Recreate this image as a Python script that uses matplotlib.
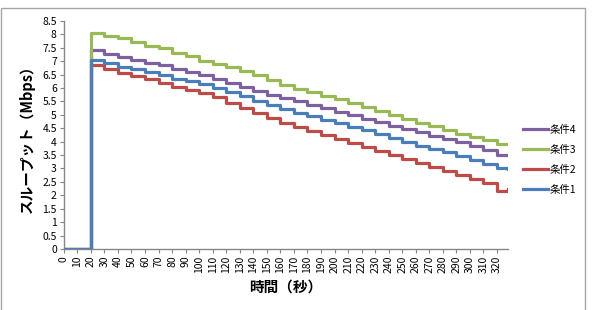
import matplotlib
matplotlib.use("Agg")
import matplotlib.pyplot as plt
from matplotlib.patches import Rectangle

plt.rcParams['font.family'] = ['Noto Sans CJK JP', 'DejaVu Sans']

# time (s): zero until 20 s, then a value roughly every 10 s
t = [0, 20, 30, 40, 50, 60, 70, 80, 90, 100, 110, 120, 130, 140, 150, 160,
     170, 180, 190, 200, 210, 220, 230, 240, 250, 260, 270, 280, 290, 300,
     310, 320, 328]

cond1 = [0, 7.05, 6.92, 6.80, 6.70, 6.60, 6.48, 6.35, 6.25, 6.15, 6.00, 5.85,
         5.70, 5.52, 5.35, 5.22, 5.08, 4.95, 4.80, 4.68, 4.55, 4.42, 4.28,
         4.12, 3.98, 3.85, 3.72, 3.60, 3.45, 3.32, 3.18, 3.00, 2.98]
cond2 = [0, 6.85, 6.72, 6.55, 6.45, 6.32, 6.20, 6.05, 5.92, 5.82, 5.65, 5.45,
         5.25, 5.05, 4.87, 4.70, 4.55, 4.40, 4.25, 4.10, 3.95, 3.80, 3.65,
         3.50, 3.35, 3.20, 3.05, 2.90, 2.75, 2.60, 2.45, 2.17, 2.25]
cond3 = [0, 8.05, 7.92, 7.85, 7.72, 7.58, 7.48, 7.32, 7.18, 7.02, 6.90, 6.78,
         6.62, 6.48, 6.30, 6.12, 5.98, 5.85, 5.70, 5.58, 5.45, 5.30, 5.15,
         4.98, 4.85, 4.70, 4.58, 4.45, 4.30, 4.18, 4.05, 3.93, 3.92]
cond4 = [0, 7.40, 7.28, 7.15, 7.05, 6.95, 6.85, 6.72, 6.60, 6.48, 6.35, 6.20,
         6.05, 5.90, 5.75, 5.62, 5.50, 5.38, 5.25, 5.12, 4.98, 4.85, 4.72,
         4.60, 4.48, 4.35, 4.22, 4.10, 3.98, 3.85, 3.70, 3.52, 3.50]

labels = ['条件1', '条件2', '条件3', '条件4']
colors = ['#4a7ebb', '#be4b48', '#98b954', '#7d60a0']
x_ticks = list(range(0, 330, 10))
y_ticks = [i * 0.5 for i in range(18)]

fig = plt.figure(figsize=(5.96, 3.10), dpi=100)
ax = fig.add_axes([0.107, 0.197, 0.745, 0.7355])

# chart area border
fig.patches.append(Rectangle((1 / 596, -0.01), 584 / 596, 1 - 8 / 310 + 0.01,
                             transform=fig.transFigure, fill=False,
                             edgecolor='#a6a6a6', linewidth=1))

lines = {}
for data, lab, col, z in [(cond2, labels[1], colors[1], 2),
                          (cond4, labels[3], colors[3], 3),
                          (cond3, labels[2], colors[2], 4),
                          (cond1, labels[0], colors[0], 5)]:
    lines[lab], = ax.plot(t, data, drawstyle='steps-post', color=col,
                          linewidth=2.3, label=lab, zorder=z)

ax.set_xlim(0, 328)
ax.set_ylim(0, 8.5)
ax.set_xticks(x_ticks)
ax.set_xticklabels([str(v) for v in x_ticks], rotation=90, fontsize=7.5)
ax.set_yticks(y_ticks)
ax.set_yticklabels(['%g' % v for v in y_ticks], fontsize=7.5)
ax.tick_params(axis='both', direction='out', length=3, width=0.8,
               color='#868686', pad=2)

for side in ['top', 'right']:
    ax.spines[side].set_visible(False)
for side in ['left', 'bottom']:
    ax.spines[side].set_color('#868686')
    ax.spines[side].set_linewidth(1)

ax.set_xlabel('時間（秒）', fontsize=10.5, fontweight='bold', labelpad=4)
ax.set_ylabel('スループット（Mbps）', fontsize=10.5, fontweight='bold', labelpad=5)

order = [labels[3], labels[2], labels[1], labels[0]]
ax.legend([lines[k] for k in order], order, loc='center left',
          bbox_to_anchor=(519 / 596, 1 - 160 / 310),
          bbox_transform=fig.transFigure, frameon=False, fontsize=7.5,
          handlelength=2.4, handletextpad=0.15, labelspacing=0.95,
          borderaxespad=0)

fig.savefig('out.png', dpi=100)
